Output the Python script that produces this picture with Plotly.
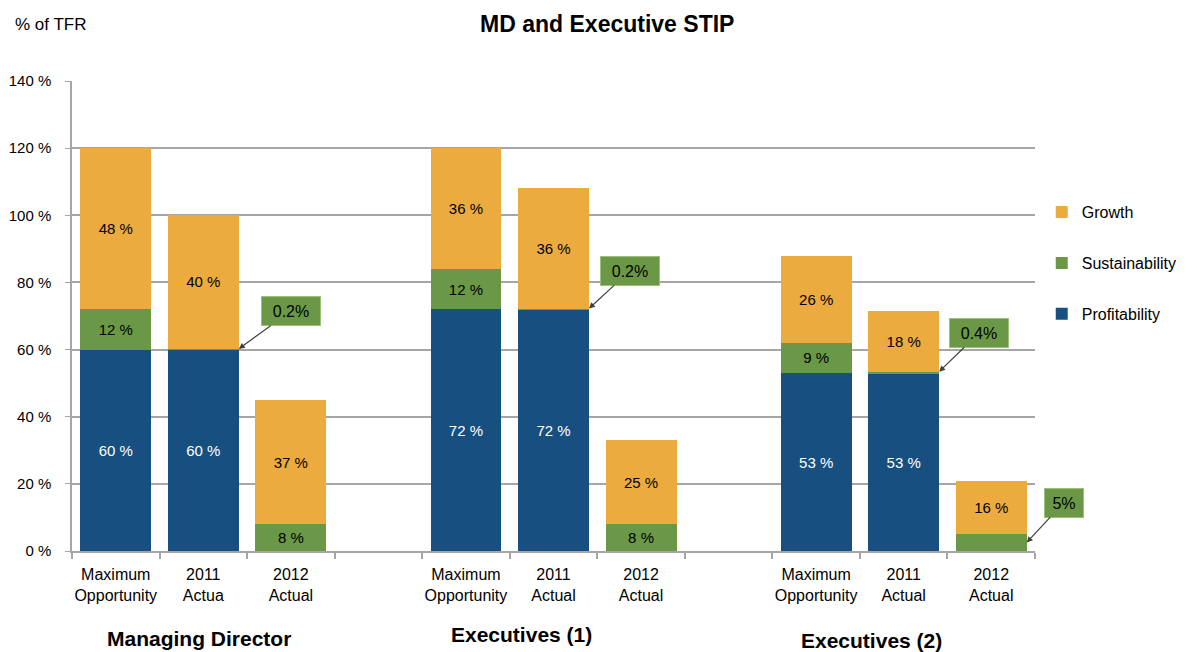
import plotly.graph_objects as go

# bar slots (gaps between the three groups at 3 and 7)
x_pos = [0, 1, 2, 4, 5, 6, 8, 9, 10]
bar_labels = ["Maximum<br>Opportunity", "2011<br>Actua", "2012<br>Actual",
              "Maximum<br>Opportunity", "2011<br>Actual", "2012<br>Actual",
              "Maximum<br>Opportunity", "2011<br>Actual", "2012<br>Actual"]
groups = ["Managing Director", "Executives (1)", "Executives (2)"]

profitability = [60, 60, 0, 72, 72, 0, 53, 53, 0]
sustainability = [12, 0.2, 8, 12, 0.2, 8, 9, 0.4, 5]
growth = [48, 40, 37, 36, 36, 25, 26, 18, 16]

# sustainability values shown in call-out boxes instead of inside the bar
callout = [False, True, False, False, True, False, False, True, True]

BLUE = "#174F80"
GREEN = "#6A9846"
ORANGE = "#ECAB3E"
GRID = "#A6A6A6"
FONT = "Liberation Sans, Arial, sans-serif"


def lab(v):
    return f"{v:g} %" if v >= 1 else ""


fig = go.Figure()

fig.add_trace(go.Bar(
    x=x_pos, y=profitability, name="Profitability", marker_color=BLUE,
    text=[lab(v) for v in profitability], textfont=dict(color="white", size=15),
    legendgroup="p", legendrank=3,
))
fig.add_trace(go.Bar(
    x=x_pos, y=sustainability, name="Sustainability", marker_color=GREEN,
    text=["" if c else lab(v) for v, c in zip(sustainability, callout)],
    textfont=dict(color="black", size=15), legendgroup="s", legendrank=2,
))
fig.add_trace(go.Bar(
    x=x_pos, y=growth, name="Growth", marker_color=ORANGE,
    text=[lab(v) for v in growth], textfont=dict(color="black", size=15),
    legendgroup="g", legendrank=1,
))

fig.update_traces(width=0.81, textposition="inside", insidetextanchor="middle",
                  textangle=0, constraintext="none", marker_line_width=0)

annotations = []

# call-out boxes for the thin green segments: (ax, ay, box width)
offsets = {1: (52, -38, 48), 4: (41, -38, 48), 7: (40, -39, 48), 8: (37, -40, 28)}
for i, (ax, ay, w) in offsets.items():
    base = profitability[i]
    yv = base + sustainability[i] / 2 if sustainability[i] >= 1 else base + sustainability[i]
    annotations.append(dict(
        x=x_pos[i] + 0.405, y=yv, xref="x", yref="y",
        text=f"{sustainability[i]:g}%", showarrow=True, ax=ax, ay=ay,
        width=w, height=18,
        arrowhead=2, arrowsize=1, arrowwidth=1.2, arrowcolor="#404040",
        bgcolor=GREEN, bordercolor="#9CC07A", borderwidth=1, borderpad=5,
        font=dict(size=16, color="black", family=FONT),
    ))

# group labels under the bars
group_x = [0.132, 0.467, 0.830]
group_shift = [-87, -83, -89]
for g, xp, ys in zip(groups, group_x, group_shift):
    annotations.append(dict(
        x=xp, y=0, xref="paper", yref="paper", xanchor="center",
        yanchor="middle", yshift=ys,
        text=f"<b>{g}</b>", showarrow=False,
        font=dict(size=21, color="black", family=FONT),
    ))

annotations.append(dict(
    x=0, y=1, xref="paper", yref="paper", xanchor="left", yanchor="middle",
    xshift=-59, yshift=57, text="% of TFR", showarrow=False,
    font=dict(size=17, color="black", family=FONT),
))

fig.update_layout(
    width=1189, height=644,
    margin=dict(l=64, r=162, t=73, b=101),
    barmode="stack",
    plot_bgcolor="white",
    paper_bgcolor="white",
    font=dict(family=FONT, size=15, color="black"),
    title=dict(text="<b>MD and Executive STIP</b>", x=0.504, xanchor="center",
               y=0.975, yanchor="middle", font=dict(size=23, color="black")),
    showlegend=True,
    legend=dict(x=1.007, y=0.757, xanchor="left", yanchor="top",
                traceorder="grouped", tracegroupgap=27,
                font=dict(size=16), itemwidth=30, bgcolor="rgba(0,0,0,0)"),
    annotations=annotations,
    xaxis=dict(
        range=[-0.5, 10.5], tickmode="array", tickvals=x_pos, ticktext=bar_labels,
        ticks="", showgrid=False, showline=True, linecolor=GRID, linewidth=1.5,
        tickfont=dict(size=16), zeroline=False, ticklabelstandoff=8,
        automargin=False,
        minor=dict(tick0=-0.5, dtick=1, ticks="outside", ticklen=6,
                   tickcolor=GRID, tickwidth=1.5, showgrid=False),
    ),
    yaxis=dict(
        range=[0, 140], tickmode="array", tickvals=[0, 20, 40, 60, 80, 100, 120, 140],
        ticktext=["0 %", "20 %", "40 %", "60 %", "80 %", "100 %", "120 %", "140 %"],
        showgrid=True, gridcolor=GRID, gridwidth=1.5, showline=True,
        linecolor=GRID, linewidth=1.5, ticks="outside", ticklen=5,
        tickcolor=GRID, zeroline=False, tickfont=dict(size=15),
        ticklabelstandoff=11, automargin=False,
    ),
)

fig.write_html("out.html")
